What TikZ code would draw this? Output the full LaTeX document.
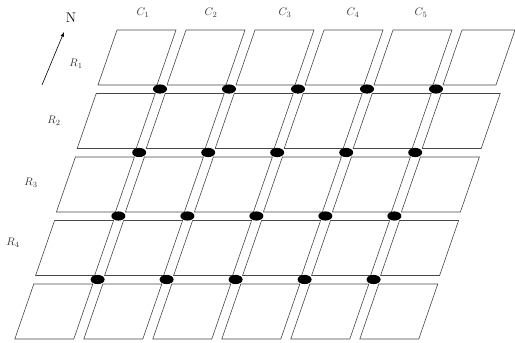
\documentclass[tikz,border=0pt]{standalone}
\begin{document}
\begin{tikzpicture}[
    x=1pt, y=-1pt,
    block/.style={
        draw=gray!55!black,
        line width=0.6pt
    },
    label/.style={
        text=black!80,
        font=\fontsize{11}{13}\selectfont
    }
]

% Frame
\useasboundingbox (0, 0) rectangle (515, 343);

% Blocks (5 rows, 6 columns)
\foreach \i in {0,...,4} {
    \foreach \j in {0,...,5} {
        \pgfmathsetmacro{\xa}{117 + 69*\j - 20.8*\i}
        \pgfmathsetmacro{\ya}{30 + 63.5*\i}
        \pgfmathsetmacro{\wd}{ifthenelse(and(\i==0, \j==5), 53, 59)}
        \draw[block] (\xa, \ya) -- ++(\wd, 0) -- ++(-19, 55) -- ++(-\wd, 0) -- cycle;
    }
}

% Intersections
\foreach \k in {0,...,3} {
    \foreach \j in {0,...,4} {
        \fill[black] ({160 - 20.8*\k + 69*\j}, {89 + 63.5*\k}) ellipse (7 and 4.6);
    }
}

% Column labels
\node[label] (c1) at (143, 13) {$C_1$};
\node[label] (c2) at (211, 13) {$C_2$};
\node[label] (c3) at (285, 13) {$C_3$};
\node[label] (c4) at (353, 13) {$C_4$};
\node[label] (c5) at (421, 13) {$C_5$};

% Row labels
\node[label] (r1) at (76, 64) {$R_1$};
\node[label] (r2) at (54, 121) {$R_2$};
\node[label] (r3) at (31, 183) {$R_3$};
\node[label] (r4) at (13, 243) {$R_4$};

% North
\node[font=\fontsize{14}{16}\selectfont] (north) at (71, 18) {N};
\coordinate (ntail) at (42, 85);
\coordinate (nhead) at (64, 32);
\draw[-latex, line width=0.6pt] (ntail) -- (nhead);

\end{tikzpicture}
\end{document}
